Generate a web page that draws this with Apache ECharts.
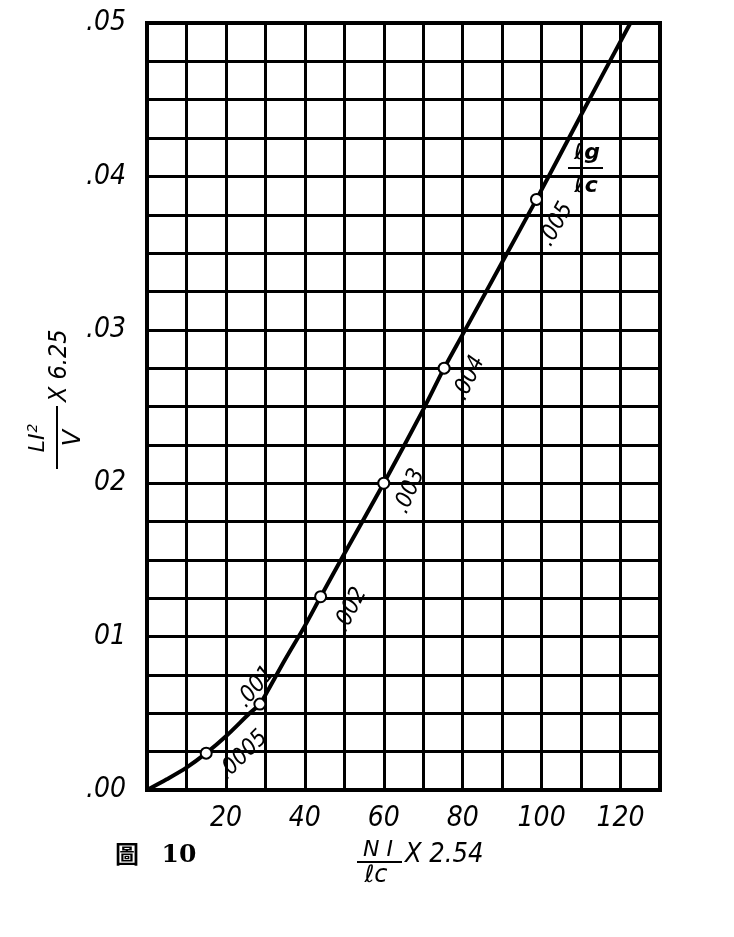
<!DOCTYPE html>
<html><head><meta charset="utf-8">
<script src="https://cdn.jsdelivr.net/npm/echarts@6/dist/echarts.min.js"></script>
<style>html,body{margin:0;padding:0;background:#fff}#c{width:734px;height:937px}</style>
</head><body><div id="c"></div>
<script>
// ---- data ----
const curveX = [0, 5, 10, 15, 20, 26, 28.6, 30, 35, 40, 44, 50, 60, 70, 75.3, 80, 90, 98.7, 110, 122.5];
const curveY = [0, 0.0007, 0.00146, 0.0024, 0.0035, 0.005, 0.0056, 0.0062, 0.0085, 0.0107, 0.0126, 0.0154, 0.0200, 0.0248, 0.0275, 0.0297, 0.0344, 0.0385, 0.0440, 0.0500];
const markerX = [15, 28.6, 44, 60, 75.3, 98.7];
const markerY = [0.0024, 0.0056, 0.0126, 0.0200, 0.0275, 0.0385];
const markerLabels = ['.0005', '.001', '.002', '.003', '.004', '.005'];
const xTickValues = [20, 40, 60, 80, 100, 120];
const xTickLabels = ['20', '40', '60', '80', '100', '120'];
const yTickLabels = ['.00', '01', '02', '.03', '.04', '.05'];

// ---- styling ----
const labelRotate = [45, 50, 63, 67, 65, 61];
const labelShift = [[37, 2], [-4, -17], [30, 13], [26, 8], [25, 10], [20, 25]];
const NARROW = "'Liberation Sans Narrow', 'DejaVu Sans Condensed', sans-serif";

function rotOffset(s, deg) {
  const t = deg * Math.PI / 180, c = Math.cos(t), n = Math.sin(t);
  return [s[0] * c - s[1] * n, s[0] * n + s[1] * c];
}

const chart = echarts.init(document.getElementById('c'), null, {renderer: 'canvas'});

const curveData = curveX.map((x, i) => [x, curveY[i]]);
const markerData = markerX.map((x, i) => ({
  value: [x, markerY[i]],
  label: {rotate: labelRotate[i], offset: rotOffset(labelShift[i], labelRotate[i])}
}));

const option = {
  backgroundColor: '#fff',
  animation: false,
  grid: {left: 147, right: 74, top: 23, bottom: 147, show: true, borderColor: '#000', borderWidth: 4, outerBoundsMode: 'none'},
  xAxis: {
    type: 'value', min: 0, max: 130, interval: 10,
    axisLine: {show: false}, axisTick: {show: false},
    splitLine: {show: true, lineStyle: {color: '#000', width: 3}},
    axisLabel: {
      margin: 15, color: '#000', fontSize: 28, fontStyle: 'italic', fontFamily: NARROW,
      formatter: v => { const k = xTickValues.indexOf(Math.round(v)); return k >= 0 ? xTickLabels[k] : ''; }
    }
  },
  yAxis: {
    type: 'value', min: 0, max: 0.05, interval: 0.0025,
    axisLine: {show: false}, axisTick: {show: false},
    splitLine: {show: true, lineStyle: {color: '#000', width: 3}},
    axisLabel: {
      margin: 21, color: '#000', fontSize: 28, fontStyle: 'italic', fontFamily: NARROW,
      formatter: v => { const k = Math.round(v * 400); return k % 4 === 0 ? yTickLabels[k / 4] : ''; }
    }
  },
  series: [
    {
      type: 'line', data: curveData, smooth: 0.3, symbol: 'none',
      lineStyle: {color: '#000', width: 4}, z: 3
    },
    {
      type: 'scatter', data: markerData, symbol: 'circle', symbolSize: 11,
      itemStyle: {color: '#fff', borderColor: '#000', borderWidth: 2, opacity: 1}, z: 4,
      label: {
        show: true, position: 'inside', align: 'center', verticalAlign: 'middle',
        color: '#000', fontSize: 23, fontStyle: 'italic', fontFamily: NARROW,
        formatter: p => markerLabels[p.dataIndex]
      }
    }
  ],
  graphic: [
    // y axis title: LI²/V x 6.25 (rotated)
    {
      type: 'group', x: 57, y: 438, rotation: Math.PI / 2,
      children: [
        {type: 'text', x: 0, y: -19, style: {text: 'LI{s|2}', align: 'center', verticalAlign: 'middle', fill: '#000',
          font: "italic 22px 'DejaVu Sans', sans-serif",
          rich: {s: {fontSize: 14, fontStyle: 'italic', fontFamily: "'DejaVu Sans', sans-serif", verticalAlign: 'top', padding: [0, 0, 10, 1]}}}},
        {type: 'line', shape: {x1: -31, y1: 0, x2: 32, y2: 0}, style: {stroke: '#000', lineWidth: 2}},
        {type: 'text', x: 0, y: 17, style: {text: 'V', align: 'center', verticalAlign: 'middle', fill: '#000', font: "italic 24px 'DejaVu Sans', sans-serif"}},
        {type: 'text', x: 36, y: 2, style: {text: 'X 6.25', align: 'left', verticalAlign: 'middle', fill: '#000', font: "italic 25px " + NARROW}}
      ]
    },
    // x axis title: NI/lc x 2.54
    {type: 'text', x: 378, y: 850, style: {text: 'N I', align: 'center', verticalAlign: 'middle', fill: '#000', font: "italic 22px 'DejaVu Sans', sans-serif"}},
    {type: 'line', shape: {x1: 357, y1: 862, x2: 402, y2: 862}, style: {stroke: '#000', lineWidth: 2}},
    {type: 'text', x: 376, y: 876, style: {text: 'ℓc', align: 'center', verticalAlign: 'middle', fill: '#000', font: "italic 24px 'DejaVu Sans', sans-serif"}},
    {type: 'text', x: 405, y: 855, style: {text: 'X 2.54', align: 'left', verticalAlign: 'middle', fill: '#000', font: "italic 27px " + NARROW}},
    // lg/lc annotation
    {type: 'text', x: 587, y: 153, z: 10, style: {text: 'ℓg', align: 'center', verticalAlign: 'middle', fill: '#000', font: "italic bold 22px 'DejaVu Sans', sans-serif"}},
    {type: 'line', z: 10, shape: {x1: 568, y1: 168, x2: 603, y2: 168}, style: {stroke: '#000', lineWidth: 2}},
    {type: 'text', x: 586, y: 186, z: 10, style: {text: 'ℓc', align: 'center', verticalAlign: 'middle', fill: '#000', font: "italic bold 22px 'DejaVu Sans', sans-serif"}},
    // figure caption
    {type: 'text', x: 127, y: 854, style: {text: '圖', align: 'center', verticalAlign: 'middle', fill: '#000', font: "bold 24px 'Noto Sans CJK TC', sans-serif"}},
    {type: 'text', x: 179, y: 855, style: {text: '10', align: 'center', verticalAlign: 'middle', fill: '#000', font: "bold 25px 'DejaVu Serif', serif"}}
  ]
};
chart.setOption(option);
</script>
</body></html>
